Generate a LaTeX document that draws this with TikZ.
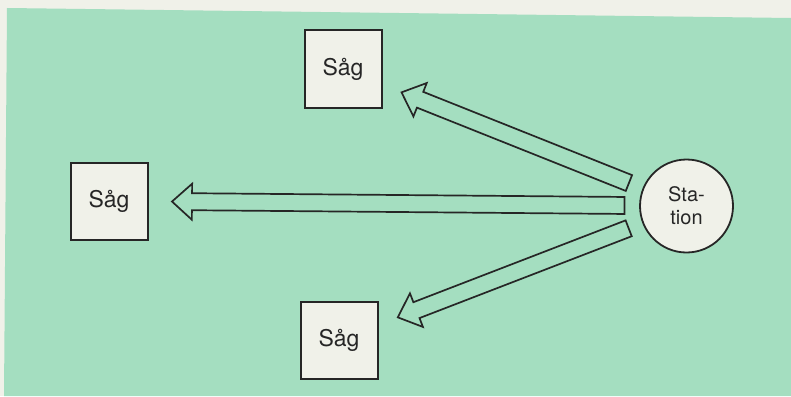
\documentclass[tikz,border=0pt]{standalone}
\usepackage{fontspec}
\setmainfont{TeX Gyre Heros}
\usetikzlibrary{calc}
\definecolor{mint}{RGB}{164,222,192}
\definecolor{paper}{RGB}{240,241,233}
\definecolor{ink}{RGB}{38,38,38}
\tikzset{
  sagbox/.style={draw=ink,line width=2pt,fill=paper,minimum size=77pt,inner sep=0pt,
    font=\fontsize{23}{26}\selectfont,text=ink},
  stationnode/.style={circle,draw=ink,line width=1.8pt,fill=paper,minimum size=93pt,inner sep=0pt,
    align=center,font=\fontsize{20}{23}\selectfont,text=ink},
  arrowline/.style={draw=ink,line width=1.7pt,line join=miter}
}

\begin{document}
\begin{tikzpicture}[x=1pt,y=-1pt]
        \fill[paper] (0,0) rectangle (791,396);
        \fill[mint] (7,8) -- (791,18) -- (791,396) -- (4,396) -- cycle;
        \node[stationnode] (st) at (686.5,206) {Sta-\\tion};
        \foreach \x/\y [count=\i] in {343/69, 109/201, 339/340}{
          \node[sagbox] (s\i) at (\x,\y) {Såg};
          \coordinate (t\i) at ($(st.center)!62pt!(s\i.center)$);
          \coordinate (p\i) at ($(s\i.center)!63pt!(st.center)$);
          \coordinate (b\i) at ($(p\i)!20pt!(t\i)$);
          \draw[arrowline] ($(t\i)!8.5pt!90:(p\i)$) -- ($(b\i)!8.5pt!90:(p\i)$) -- ($(b\i)!18pt!90:(p\i)$)
            -- (p\i) -- ($(b\i)!18pt!-90:(p\i)$) -- ($(b\i)!8.5pt!-90:(p\i)$) -- ($(t\i)!8.5pt!-90:(p\i)$) -- cycle;
        }
      \end{tikzpicture}
\end{document}
